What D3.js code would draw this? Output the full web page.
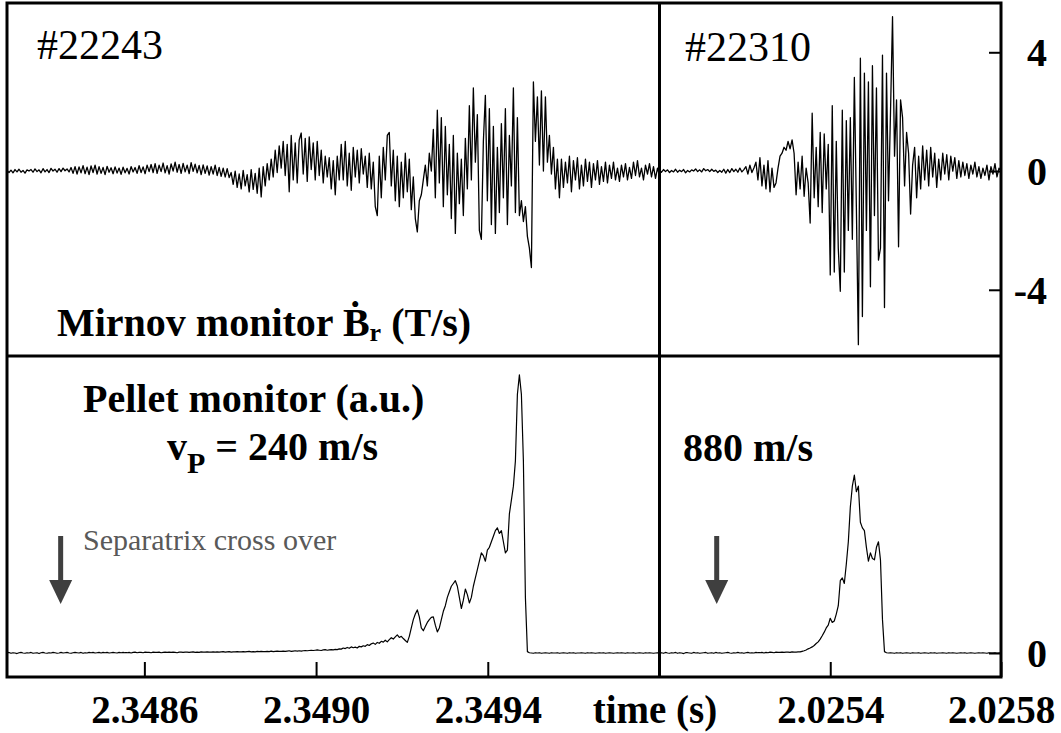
<!DOCTYPE html>
<html>
<head>
<meta charset="utf-8">
<script src="https://cdnjs.cloudflare.com/ajax/libs/d3/7.8.5/d3.min.js"></script>
<style>
body { margin: 0; background: #fff; }
</style>
</head>
<body>
<svg id="chart" width="1061" height="733"></svg>
<script>
// time windows of the two shots (s)
var leftTime = [2.34828, 2.34980];
var rightTime = [2.0250, 2.0258];
var leftTicks = [2.3486, 2.3490, 2.3494];
var rightTicks = [2.0254, 2.0258];
var mirnovTicks = [-4, 0, 4];
var pelletTicks = [0];
var shots = ["#22243", "#22310"];
// separatrix cross over times (arrows)
var crossOver = [2.348405, 2.025134];

// Mirnov monitor dB/dt (T/s), evenly sampled over each window
var mirnovLeft = [
	0.02,-0.05,0.03,-0.06,0.05,-0.03,0.06,-0.04,0.02,-0.07,0.04,0,0.05,-0.04,0.07,-0.02,0.04,-0.06,0.08,-0.03,0.05,-0.05,0.09,0,0.06,-0.04,0.08,-0.02,0.1,0.01,0.07,-0.03,
	0.12,-0.08,0.15,-0.1,0.14,-0.06,0.18,-0.09,0.13,-0.12,0.17,-0.05,0.2,-0.1,0.15,-0.08,0.12,-0.12,0.16,-0.04,0.11,-0.09,0.14,-0.07,0.1,-0.11,0.13,-0.06,0.09,-0.1,0.15,-0.03,0.12,-0.08,0.18,-0.05,0.14,-0.09,0.2,-0.02,
	0.22,-0.05,0.25,-0.08,0.2,-0.02,0.27,-0.06,0.18,-0.1,0.24,0,0.3,-0.04,0.22,-0.08,0.26,-0.03,0.2,-0.09,0.28,-0.01,0.23,-0.06,0.19,-0.12,0.21,-0.08,0.17,-0.14,0.15,-0.1,0.2,-0.15,0.12,-0.18,0.1,-0.2,0.08,-0.22,
	-0.05,-0.45,0,-0.55,-0.1,-0.6,0.02,-0.5,-0.12,-0.7,0.05,-0.62,-0.08,-0.75,0.1,-0.87,0.15,-0.5,0.25,-0.3,
	0.4,-0.2,0.7,-0.05,0.85,0.1,1,-0.15,0.9,-0.7,1.2,-0.3,0.95,-0.4,1.05,
	1.28,-0.1,1.1,-0.35,1.15,0.05,0.95,-0.3,1,-0.15,0.7,-0.4,0.5,-0.2,0.45,-0.6,0.35,-0.8,0.5,-0.3,
	0.9,-0.3,1,-0.5,0.6,-0.65,0.8,-0.2,0.7,-0.4,0.75,-0.1,0.5,-0.55,0.6,
	-0.6,0.3,-1.2,-1.5,0.5,-0.9,0.8,-0.3,1.2,1.3,
	-0.5,0.7,-1,0.5,-1.2,0.3,-0.9,0.6,-0.7,0.4,-1.3,-0.2,-1.6,-2.05,-1,
	-0.8,-0.3,0.2,-0.5,0.6,0,1.4,-0.9,2.05,-0.4,
	1.8,-1.2,1.5,-0.8,0.9,-1.6,1.2,-2.1,0.6,-1.1,
	0.4,-1.5,1.1,-0.6,2.2,-0.3,2.8,0.3,1.9,-2,
	-2.3,1,2.55,-1,2.1,-1.8,1.5,-2.1,0.8,-1.4,
	1.6,-0.9,2.1,-1.8,1.2,-0.5,2.8,-1.4,1.8,-1.5,
	-1,-1.7,-1.2,-2.2,-2.6,
	-3.25,3,1,2.5,0.2,2.7,0,2.5,
	0.3,1.2,-0.1,0.8,-0.6,0.4,-0.9,
	0.4,-0.55,0.3,-0.4,0.5,-0.7,0.35,-0.3,0.45,-0.6,0.2,-0.5,0.4,-0.35,0.3,-0.55,0.25,-0.3,0.35,-0.45,
	0.15,-0.35,0.3,-0.4,0.2,-0.25,0.3,-0.3,0.1,-0.35,0.2,-0.2,0.25,-0.3,0.12,-0.25,0.3,-0.15,0.35,-0.2,
	0.1,-0.3,0.2,-0.1,0.25,-0.2,0.15,-0.25,0.1,-0.15
];
var mirnovRight = [
	0.03,-0.04,0.05,-0.02,0.04,-0.05,0.02,-0.03,0.06,-0.04,0.03,-0.02,0.05,-0.06,0.02,-0.03,0.04,0,0.07,-0.02,
	0.04,-0.03,0.08,0.01,0.05,-0.02,0.06,-0.01,0.03,-0.05,0.02,-0.04,0.06,-0.07,0.05,-0.05,0.08,-0.02,0.06,-0.04,
	0.1,-0.03,0.05,
	0.15,-0.1,0.2,-0.05,0.1,
	0.3,-0.3,0.45,-0.5,0.2,-0.6,0.35,-0.7,0.1,-0.55,
	-0.4,0.1,0.5,0.6,0.8,0.7,1,0.75,1.05,0.6,-0.8,0.3,
	-0.6,0.5,-0.85,0.1,-0.4,
	-1.75,1.95,-0.9,0.8,-1.2,
	1.3,-1.4,1.25,-0.6,0.9,
	-3.5,2.2,-3.4,1,-2.6,
	-4.05,2.05,-3.4,1.7,-2,
	1.8,-2.3,3.15,-1.2,
	-5.85,3.8,-4.9,3.3,-2,3,-3.9,
	3.55,-1.5,2.8,-3,-2.6,
	3.9,-4.6,3.3,-1,2,
	5.2,0.5,2.4,-2.55,2.4,
	1.8,-0.5,1.3,0.6,
	-1.45,0.2,0.8,-0.9,0.5,
	-0.6,0.85,-0.3,0.7,-0.5,0.8,-0.2,0.6,-0.55,0.4,
	-0.3,0.6,-0.1,0.55,-0.3,0.5,0,0.45,-0.25,0.35,
	-0.2,0.3,-0.15,0.25,-0.25,0.2,-0.1,0.3,-0.2,0.15,-0.25,0.1,-0.15,0.2,-0.3,0.15,-0.1,0.25,-0.2,0.1,0
];

// pellet monitor (a.u.), same sampling
var pelletLeft = [
	0,0.002,-0.001,0.001,0,-0.002,0.001,0.002,0,-0.001,
	0.001,0,0.002,-0.001,0,0.001,-0.002,0.001,0.002,0,
	-0.001,0.001,0,0.002,0.001,-0.001,0,0.002,0,0.001,
	0.002,0,-0.001,0.001,0.002,0.001,0,0.002,-0.001,0.001,
	0,0.002,0.001,0.002,0,0.001,0.002,0,0.002,0.001,
	0.002,0,0.001,0.002,0.001,0,0.002,0.001,0.002,0.001,
	0.001,0.002,0,0.002,0.003,0.001,0.002,0.002,0.001,0.003,
	0.002,0.002,0.001,0.003,0.002,0.002,0.003,0.001,0.002,0.003,
	0.002,0.003,0.002,0.003,0.002,0.001,0.003,0.003,0.002,0.003,
	0.003,0.002,0.003,0.004,0.002,0.003,0.002,0.004,0.003,0.003,
	0.004,0.003,0.003,0.004,0.003,0.004,0.003,0.004,0.005,0.003,
	0.004,0.005,0.003,0.004,0.004,0.005,0.004,0.004,0.005,0.004,
	0.005,0.006,0.004,0.005,0.004,0.006,0.005,0.006,0.005,0.005,
	0.006,0.005,0.007,0.005,0.006,0.007,0.006,0.006,0.007,0.006,
	0.007,0.008,0.006,0.007,0.008,0.007,0.008,
	0.007,0.008,0.009,0.008,0.009,0.01,0.009,0.01,0.011,0.01,0.009,0.011,0.012,0.01,0.011,
	0.012,0.011,0.013,0.012,0.015,0.014,0.018,0.016,0.02,0.017,0.022,0.019,0.021,0.018,0.024,0.022,0.026,0.024,
	0.03,0.027,0.033,0.036,0.031,0.038,0.035,0.042,0.039,0.046,0.04,
	0.048,0.055,0.05,0.058,0.065,0.056,0.06,0.052,0.045,0.038,
	0.06,0.09,0.12,0.14,0.155,0.13,
	0.09,0.08,0.095,0.11,0.12,0.128,0.13,0.1,0.076,0.09,
	0.12,0.15,0.17,0.2,0.22,0.24,0.25,0.26,0.24,
	0.2,0.16,0.19,0.23,0.21,0.18,0.2,0.24,
	0.27,0.3,0.33,0.36,0.35,0.33,0.37,
	0.38,0.4,0.42,0.44,0.45,0.43,0.44,0.4,0.36,
	0.37,0.5,0.55,0.6,0.69,0.93,1,0.93,0.69,0.2,0.005,
	0.001,0,-0.001,0.001,0,0.001,-0.001,0,0.001,0,
	-0.001,0.001,0,0,0.001,-0.001,0,0.001,0,-0.001,
	0.001,0,0.001,-0.001,0,0,0.001,0,-0.001,0.001,
	0,0.001,0,-0.001,0,0.001,0,0.001,-0.001,0,
	0.001,0,-0.001,0,0.001,0,0.001,0,-0.001,0.001,
	0,0,0.001,-0.001,0,0.001,0,-0.001,0.001,0,
	0.001,0,-0.001,0,0.001,0
];
var pelletRight = [
	0,0.001,-0.001,0.002,0,-0.001,0.001,0,0.002,-0.001,
	0.001,0,-0.002,0.001,0.001,0,-0.001,0.002,0,0.001,
	-0.001,0,0.001,0.002,-0.001,0,0.001,-0.001,0.002,0,
	0.001,-0.001,0,0.001,0.002,0,-0.001,0.001,0,0.002,
	0,0.001,-0.001,0.001,0.002,0,0.001,0,0.002,0.001,
	0.001,0.002,0,0.002,0.001,0.003,0.002,0.001,0.003,0.002,
	0.002,0.003,0.002,0.003,0.003,0.002,0.004,0.003,0.003,0.004,
	0.004,0.006,0.008,0.011,0.015,
	0.018,0.022,0.027,0.034,0.04,0.05,0.062,0.075,0.09,0.1,
	0.125,0.11,0.115,0.14,0.17,
	0.26,0.27,0.25,0.32,0.4,
	0.525,0.6,0.64,0.58,0.6,
	0.47,0.45,0.44,0.38,0.33,
	0.36,0.34,0.335,0.38,0.4,
	0.335,0.12,0.005,0.001,0,
	0.001,0,-0.001,0.001,0,0.001,-0.001,0,0.001,0,
	-0.001,0.001,0,0,0.001,-0.001,0,0.001,0,-0.001,
	0.001,0,0.001,-0.001,0,0,0.001,0,-0.001,0.001,
	0,0.001,0,-0.001,0,0.001,0,0.001,-0.001,0,
	0.001,0,-0.001,0,0.001,0,0.001,0,-0.001,0.001,
	0,0,0.001,-0.001,0,0.001
];

var box = { left: 7, mid: 659.5, right: 1001, top: 3, split: 356, bottom: 677 };
var labelSize = 40;
var serifFont = "'Liberation Serif', 'Times New Roman', Times, serif";

var svg = d3.select("#chart");

// Scales
var xLeft = d3.scaleLinear().domain(leftTime).range([box.left, box.mid]);
var xRight = d3.scaleLinear().domain(rightTime).range([box.mid, box.right]);
var yMirnov = d3.scaleLinear().domain([-6.23, 5.66]).range([box.split, box.top]);
var yPellet = d3.scaleLinear().domain([-0.0863, 1.068]).range([box.bottom, box.split]);

// spread samples evenly over a time window
function series(values, win) {
	var t = d3.scaleLinear().domain([0, values.length - 1]).range(win);
	return values.map(function(v, i){ return [t(i), v]; });
}

// text helper: serif face, size, weight
function label(x, y, size, weight) {
	return svg.append("text")
		.attr("x", x).attr("y", y)
		.style("font-family", serifFont)
		.style("font-size", size + "px")
		.style("font-weight", weight || "normal");
}

// one line per panel, clipped to it
var panels = [
	{ id: "tl", x: xLeft, y: yMirnov, data: series(mirnovLeft, leftTime), w: 1.3 },
	{ id: "tr", x: xRight, y: yMirnov, data: series(mirnovRight, rightTime), w: 1.3 },
	{ id: "bl", x: xLeft, y: yPellet, data: series(pelletLeft, leftTime), w: 1.2 },
	{ id: "br", x: xRight, y: yPellet, data: series(pelletRight, rightTime), w: 1.2 }
];
var defs = svg.append("defs");
panels.forEach(function(p){
	var r0 = p.x.range(), r1 = p.y.range();
	defs.append("clipPath").attr("id", "clip-" + p.id)
		.append("rect")
		.attr("x", r0[0]).attr("y", r1[1])
		.attr("width", r0[1] - r0[0]).attr("height", r1[0] - r1[1]);

	var line = d3.line()
		.x(function(d){ return p.x(d[0]); })
		.y(function(d){ return p.y(d[1]); });

	svg.append("path")
		.datum(p.data)
		.attr("clip-path", "url(#clip-" + p.id + ")")
		.attr("fill", "none")
		.attr("stroke", "#000")
		.attr("stroke-width", p.w)
		.attr("stroke-linejoin", "round")
		.attr("d", line);
});

function styleAxis(g, size) {
	g.select(".domain").remove();
	g.selectAll(".tick line").attr("stroke", "#000").attr("stroke-width", 2);
	g.selectAll(".tick text")
		.attr("fill", "#000")
		.style("font-family", serifFont)
		.style("font-size", size + "px")
		.style("font-weight", "bold");
}

// bottom time axes, ticks pointing up into the plot
var fmtTime = d3.format(".4f");
[[xLeft, leftTicks], [xRight, rightTicks]].forEach(function(a){
	svg.append("g")
		.attr("transform", "translate(0," + box.bottom + ")")
		.call(d3.axisBottom(a[0]).tickValues(a[1]).tickSizeInner(-15).tickSizeOuter(0)
			.tickPadding(18).tickFormat(fmtTime))
		.call(styleAxis, labelSize - 1);
});

// right-hand value axes, ticks pointing left, labels right-aligned
var fmtVal = function(d){ return d < 0 ? "-" + Math.abs(d) : String(d); };
[[yMirnov, mirnovTicks], [yPellet, pelletTicks]].forEach(function(a){
	var g = svg.append("g")
		.attr("transform", "translate(" + box.right + ",0)")
		.call(d3.axisRight(a[0]).tickValues(a[1]).tickSizeInner(-12).tickSizeOuter(0)
			.tickPadding(46).tickFormat(fmtVal))
		.call(styleAxis, labelSize);
	g.selectAll(".tick text").attr("text-anchor", "end").attr("dy", "0.34em");
});

label(655, 723, labelSize - 1, "bold")
	.attr("text-anchor", "middle")
	.text("time (s)");

// frame and panel dividers
svg.append("rect")
	.attr("x", box.left).attr("y", box.top)
	.attr("width", box.right - box.left).attr("height", box.bottom - box.top)
	.attr("fill", "none").attr("stroke", "#000").attr("stroke-width", 3);
svg.append("line")
	.attr("x1", box.mid).attr("x2", box.mid).attr("y1", box.top).attr("y2", box.bottom)
	.attr("stroke", "#000").attr("stroke-width", 3);
svg.append("line")
	.attr("x1", box.left).attr("x2", box.right).attr("y1", box.split).attr("y2", box.split)
	.attr("stroke", "#000").attr("stroke-width", 3);

// shot numbers
label(37, 59, 42).text(shots[0]);
label(685, 61, 42).text(shots[1]);

// panel labels
var mirnovLabel = label(57, 336, labelSize, "bold");
mirnovLabel.append("tspan").text("Mirnov monitor Ḃ");
mirnovLabel.append("tspan").attr("dy", 5).style("font-size", "26px").text("r");
mirnovLabel.append("tspan").attr("dy", -5).text(" (T/s)");

label(83, 412, labelSize, "bold").text("Pellet monitor (a.u.)");

var speedLabel = label(167, 460, labelSize, "bold");
speedLabel.append("tspan").text("v");
speedLabel.append("tspan").attr("dy", 13).style("font-size", "30px").text("P");
speedLabel.append("tspan").attr("dy", -13).text(" = 240 m/s");

label(683, 461, labelSize, "bold").text("880 m/s");

label(83, 550, 30).attr("fill", "#595959").text("Separatrix cross over");

// separatrix arrows
[xLeft(crossOver[0]), xRight(crossOver[1])].forEach(function(cx){
	svg.append("rect")
		.attr("x", cx - 2.5).attr("y", 536)
		.attr("width", 5).attr("height", 46)
		.attr("fill", "#3f3f3f");
	svg.append("path")
		.attr("d", "M" + (cx - 11.5) + ",580 L" + (cx + 11.5) + ",580 L" + cx + ",604 Z")
		.attr("fill", "#3f3f3f");
});
</script>
</body>
</html>
